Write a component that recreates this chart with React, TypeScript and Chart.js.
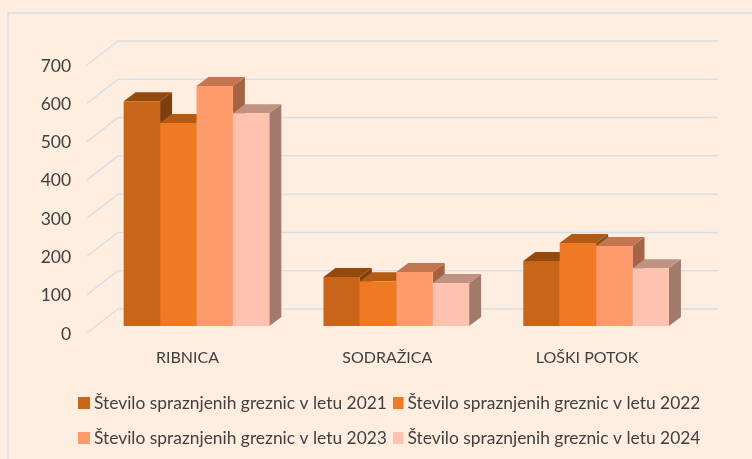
import React, { useEffect, useRef } from "react";
import { Chart, registerables } from "chart.js";

Chart.register(...registerables);

const categories = ["RIBNICA", "SODRAŽICA", "LOŠKI POTOK"];
const seriesNames = [
  "Število spraznjenih greznic v letu 2021",
  "Število spraznjenih greznic v letu 2022",
  "Število spraznjenih greznic v letu 2023",
  "Število spraznjenih greznic v letu 2024",
];
const values2021 = [587, 128, 170];
const values2022 = [530, 117, 217];
const values2023 = [627, 141, 209];
const values2024 = [556, 112, 151];
const frontColors = ["#C96518", "#F07A24", "#FF9B6B", "#FFC2AE"];
const topColors = ["#94490F", "#B55A12", "#C27550", "#C09282"];
const sideColors = ["#7D3F0E", "#8F4A12", "#A46344", "#A27A6C"];

const BG = "#FFEEDF";
const LINE = "#D7DFE5";
const TEXT = "#404040";
const FONT = "Lato";
const DX = 12;
const DY = 9;

const decor = {
  id: "decor3d",
  beforeDraw(chart: any) {
    const { ctx, width, height } = chart;
    ctx.save();
    ctx.fillStyle = BG;
    ctx.fillRect(0, 0, width, height);
    ctx.strokeStyle = LINE;
    ctx.lineWidth = 1.5;
    ctx.strokeRect(8, 13, width + 20, height + 20);
    ctx.restore();
  },
  beforeDatasetsDraw(chart: any) {
    const { ctx, scales, chartArea } = chart;
    ctx.save();
    ctx.strokeStyle = LINE;
    ctx.lineWidth = 1.5;
    for (const t of scales.y.ticks) {
      const p = scales.y.getPixelForValue(t.value);
      ctx.beginPath();
      ctx.moveTo(chartArea.left - 9.6, p + 7);
      ctx.lineTo(chartArea.left + 21.4, p - 17);
      ctx.lineTo(chartArea.right + 22, p - 17);
      ctx.stroke();
    }
    const count = chart.data.labels.length;
    for (let c = 0; c < count; c++) {
      chart.data.datasets.forEach((_: any, d: number) => {
        const bar = chart.getDatasetMeta(d).data[c];
        const l = bar.x - bar.width / 2;
        const r = bar.x + bar.width / 2;
        const top = bar.y;
        const base = bar.base;
        ctx.fillStyle = sideColors[d];
        ctx.beginPath();
        ctx.moveTo(r, top);
        ctx.lineTo(r + DX, top - DY);
        ctx.lineTo(r + DX, base - DY);
        ctx.lineTo(r, base);
        ctx.closePath();
        ctx.fill();
        ctx.fillStyle = topColors[d];
        ctx.beginPath();
        ctx.moveTo(l, top);
        ctx.lineTo(l + DX, top - DY);
        ctx.lineTo(r + DX, top - DY);
        ctx.lineTo(r, top);
        ctx.closePath();
        ctx.fill();
      });
    }
    ctx.restore();
  },
  afterDraw(chart: any) {
    const { ctx } = chart;
    const cols = [
      { sw: 78, sww: 12, tx: 94 },
      { sw: 393, sww: 10.5, tx: 407.5 },
    ];
    const rows = [403, 438];
    ctx.save();
    ctx.font = `17.4px ${FONT}`;
    ctx.textBaseline = "middle";
    ctx.textAlign = "left";
    seriesNames.forEach((name, i) => {
      const col = cols[i % 2];
      const y = rows[Math.floor(i / 2)];
      ctx.fillStyle = frontColors[i];
      ctx.fillRect(col.sw, y - 6, col.sww, 12);
      ctx.fillStyle = TEXT;
      ctx.fillText(name, col.tx, y);
    });
    ctx.restore();
  },
};

export default function App() {
  const ref = useRef<HTMLCanvasElement>(null);
  useEffect(() => {
    document.body.style.background = BG;
    const seriesValues = [values2021, values2022, values2023, values2024];
    const chart = new Chart(ref.current!, {
      type: "bar",
      data: {
        labels: categories,
        datasets: seriesNames.map((label, i) => ({
          label,
          data: seriesValues[i],
          backgroundColor: frontColors[i],
          categoryPercentage: 0.729,
          barPercentage: 1,
        })),
      },
      options: {
        responsive: false,
        animation: false,
        layout: { padding: { left: 0, top: 58, right: 56, bottom: 0 } },
        plugins: { legend: { display: false }, tooltip: { enabled: false }, title: { display: false } },
        scales: {
          x: {
            grid: { display: false },
            border: { display: false },
            ticks: { font: { family: FONT, size: 16 }, color: TEXT, padding: 14, labelOffset: -9, maxRotation: 0 },
            afterFit: (s: any) => { s.height = 133; },
          },
          y: {
            min: 0,
            max: 700,
            grid: { display: false },
            border: { display: false },
            ticks: { stepSize: 100, font: { family: FONT, size: 17.5 }, color: TEXT, padding: 17.5, labelOffset: 8 },
            afterFit: (s: any) => { s.width = 96.6; },
          },
        },
      },
      plugins: [decor],
    } as any);
    return () => chart.destroy();
  }, []);
  return (
    <canvas
      ref={ref}
      width={752}
      height={459}
      style={{ position: "fixed", left: 0, top: 0, display: "block" }}
    />
  );
}
